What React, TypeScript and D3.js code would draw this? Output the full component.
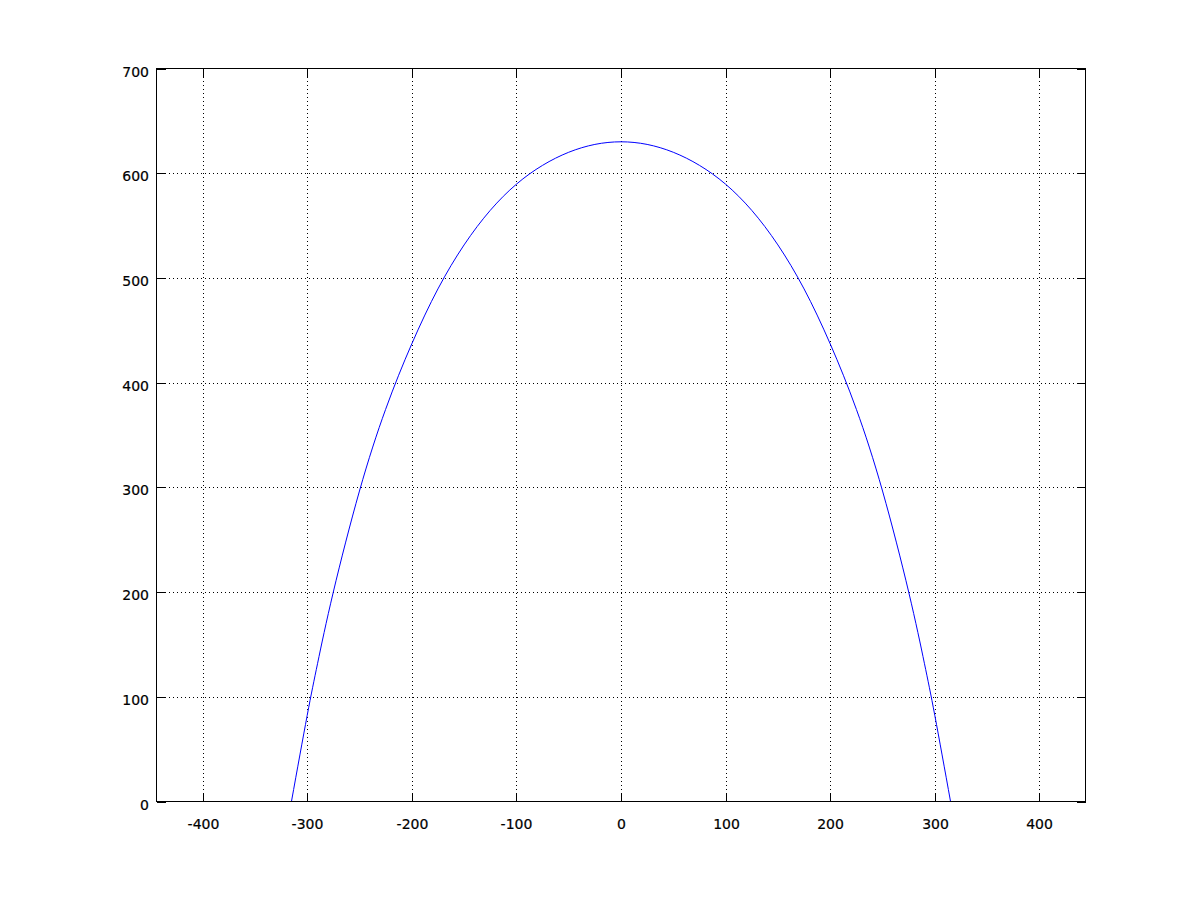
import React from "react";
import * as d3 from "d3";

const xTicks = [-400, -300, -200, -100, 0, 100, 200, 300, 400];
const yTicks = [0, 100, 200, 300, 400, 500, 600, 700];
const xDomain = [-444, 444];
const yDomain = [0, 700];

const curveX = [-315, -300, -290, -275, -250, -225, -200, -175, -150, -125, -100, -75, -50, -25, 0, 25, 50, 75, 100, 125, 150, 175, 200, 225, 250, 275, 290, 300, 315];
const curveY = [0, 82, 132, 200, 296.5, 374.5, 437, 489.5, 531.5, 564.5, 589.5, 607.5, 620, 627.5, 630, 627.5, 620, 607.5, 589.5, 564.5, 531.5, 489.5, 437, 374.5, 296.5, 200, 132, 82, 0];

export default function App() {
  const W = 1200, H = 900;
  const x = d3.scaleLinear().domain(xDomain).range([156.5, 1085.5]);
  const y = d3.scaleLinear().domain(yDomain).range([801.5, 68.5]);
  const pts: [number, number][] = curveX.map((v, i) => [v, curveY[i]]);
  const line = d3.line<[number, number]>().x(d => x(d[0])).y(d => y(d[1])).curve(d3.curveNatural);
  const left = x(xDomain[0]), right = x(xDomain[1]), top = y(yDomain[1]), bottom = y(yDomain[0]);
  const tl = 9;
  const font = "'DejaVu Sans', sans-serif";
  return (
    <svg width={W} height={H} style={{ position: "absolute", left: 0, top: 0, background: "#fff" }}>
      <rect x={0} y={0} width={W} height={H} fill="#fff" />
      {xTicks.map(t => (
        <line key={"gx" + t} x1={Math.round(x(t)) + 0.5} x2={Math.round(x(t)) + 0.5} y1={top} y2={bottom} stroke="#000" strokeWidth={1} strokeDasharray="1 3" shapeRendering="crispEdges" />
      ))}
      {yTicks.filter(t => t !== 0 && t !== 700).map(t => (
        <line key={"gy" + t} x1={left} x2={right} y1={Math.round(y(t)) + 0.5} y2={Math.round(y(t)) + 0.5} stroke="#000" strokeWidth={1} strokeDasharray="1 3" shapeRendering="crispEdges" />
      ))}
      <path d={line(pts) || ""} fill="none" stroke="#0000ff" strokeWidth={1} />
      <rect x={left} y={top} width={right - left} height={bottom - top} fill="none" stroke="#000" strokeWidth={1} shapeRendering="crispEdges" />
      {xTicks.map(t => {
        const px = Math.round(x(t)) + 0.5;
        return (
          <g key={"tx" + t}>
            <line x1={px} x2={px} y1={bottom} y2={bottom - tl} stroke="#000" shapeRendering="crispEdges" />
            <line x1={px} x2={px} y1={top} y2={top + tl} stroke="#000" shapeRendering="crispEdges" />
            <text x={px} y={829} textAnchor="middle" fontFamily={font} fontSize={14} fill="#000" stroke="#000" strokeWidth={0.2}>{t}</text>
          </g>
        );
      })}
      {yTicks.map(t => {
        const py = Math.round(y(t)) + 0.5;
        return (
          <g key={"ty" + t}>
            <line x1={left} x2={left + tl} y1={py} y2={py} stroke="#000" shapeRendering="crispEdges" />
            <line x1={right} x2={right - tl} y1={py} y2={py} stroke="#000" shapeRendering="crispEdges" />
            <text x={149} y={py + 7} textAnchor="end" fontFamily={font} fontSize={14} fill="#000" stroke="#000" strokeWidth={0.2}>{t}</text>
          </g>
        );
      })}
    </svg>
  );
}
